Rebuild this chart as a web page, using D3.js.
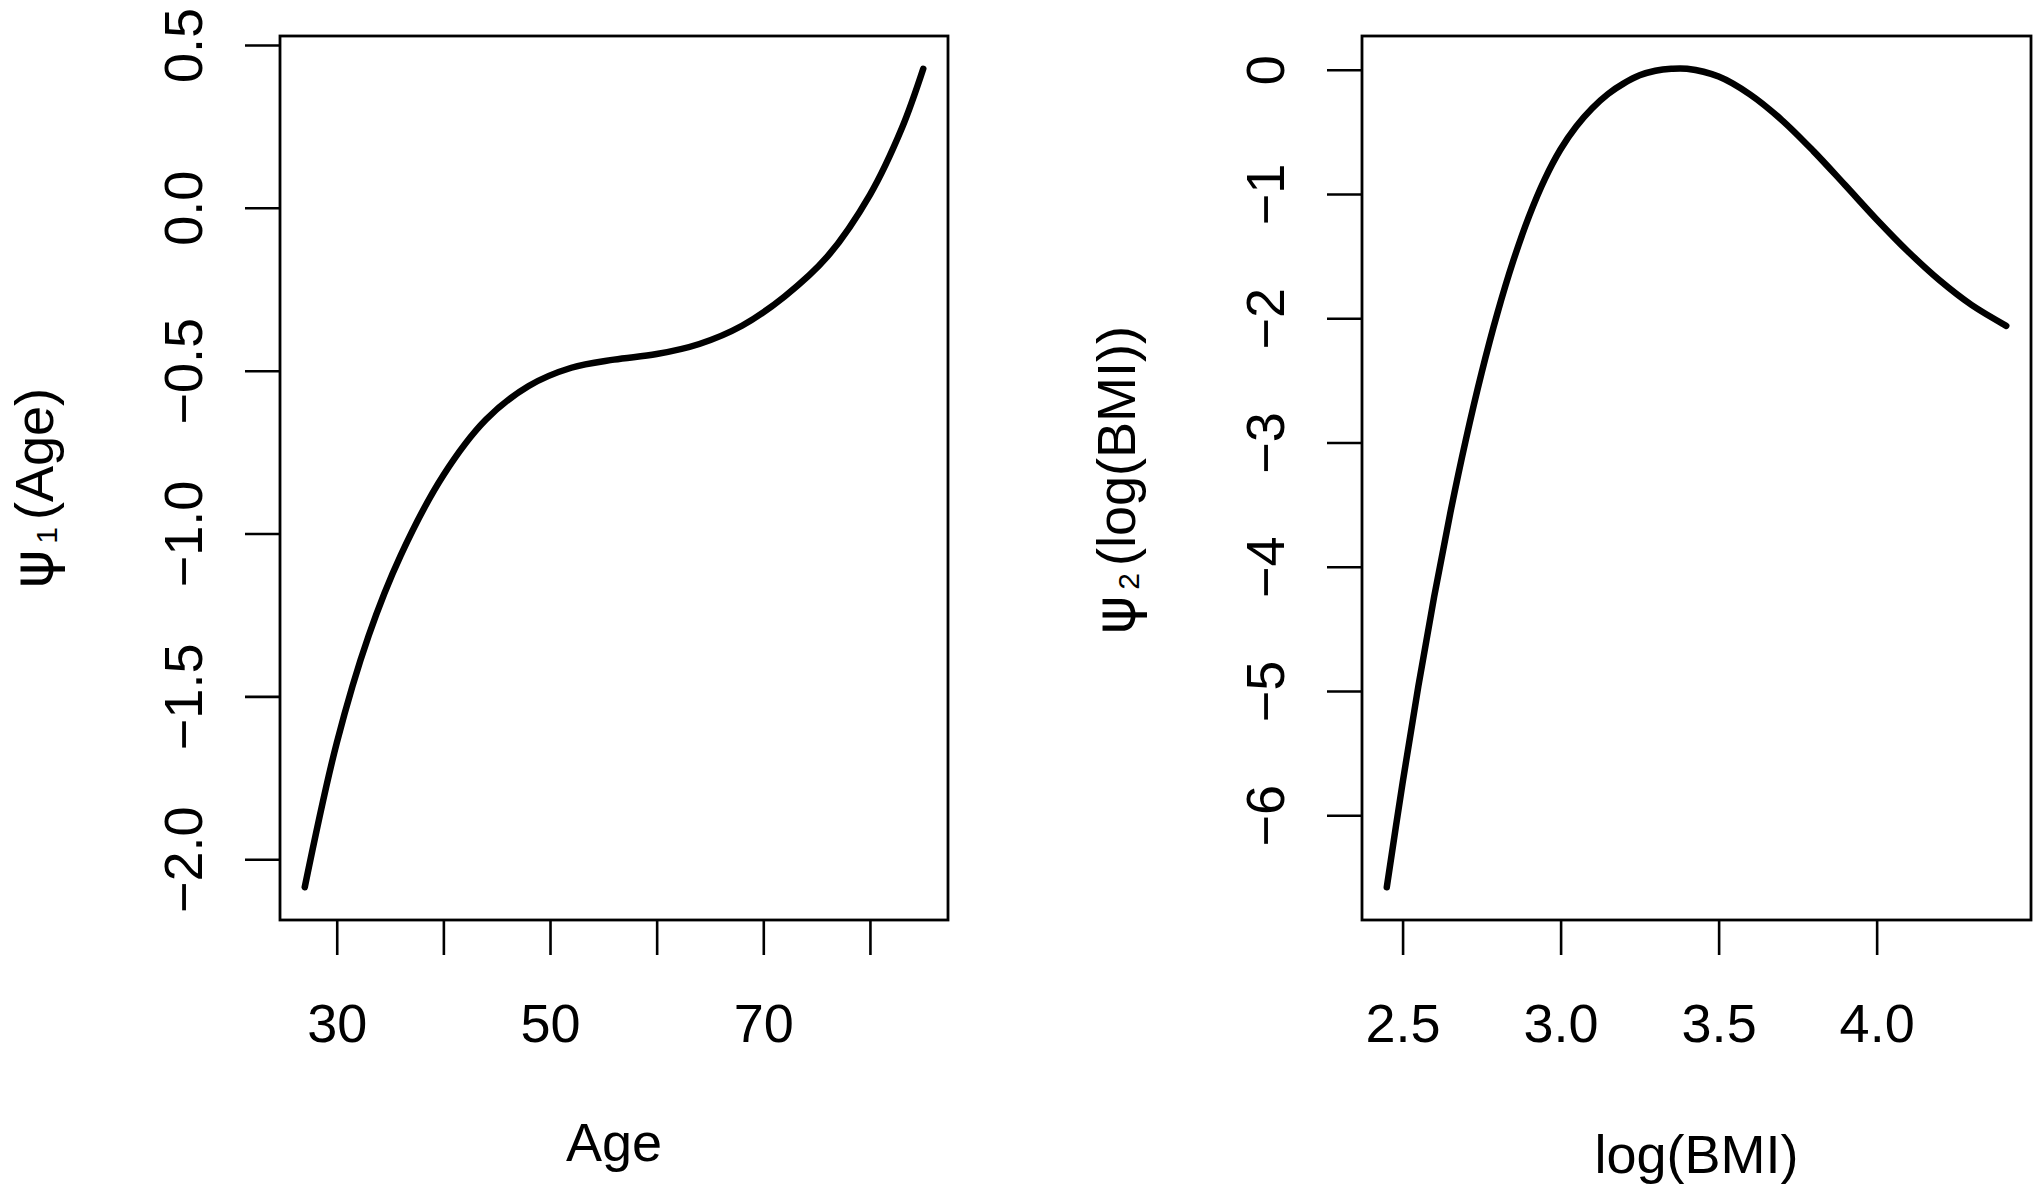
<!DOCTYPE html>
<html>
<head>
<meta charset="utf-8">
<script src="https://cdn.jsdelivr.net/npm/d3@7"></script>
<style>
  body { margin: 0; background: #fff; }
  svg { display: block; font-family: "Liberation Sans", Arial, Helvetica, sans-serif; }
</style>
</head>
<body>
<svg id="chart" width="2040" height="1194"></svg>
<script>
// Age effect (left panel)
const ageValues = [27, 30, 33, 36, 40, 44, 48, 52, 56, 60, 64, 68, 72, 76, 80, 83, 85];
const psi1Values = [-2.086, -1.643, -1.313, -1.067, -0.821, -0.650, -0.547, -0.491, -0.466,
                    -0.449, -0.418, -0.362, -0.272, -0.150, 0.040, 0.245, 0.427];

// log(BMI) effect (right panel)
const logBmiValues = [2.45, 2.5, 2.55, 2.6, 2.65, 2.7, 2.75, 2.8, 2.85, 2.9, 2.95, 3.0, 3.05,
                      3.1, 3.15, 3.2, 3.25, 3.3, 3.35, 3.4, 3.5, 3.6, 3.7, 3.8, 3.9, 4.0, 4.1,
                      4.2, 4.3, 4.41];
const psi2Values = [-6.58, -5.74, -4.96, -4.24, -3.58, -2.98, -2.44, -1.96, -1.54, -1.18,
                    -0.88, -0.64, -0.455, -0.31, -0.195, -0.11, -0.045, -0.008, 0.008, 0.008,
                    -0.055, -0.20, -0.405, -0.655, -0.928, -1.205, -1.465, -1.697, -1.893,
                    -2.061];

// ticks and labels
const ageTicks = [30, 40, 50, 60, 70, 80];
const ageTickLabels = ["30", "", "50", "", "70", ""];
const psi1Ticks = [-2, -1.5, -1, -0.5, 0, 0.5];
const bmiTicks = [2.5, 3.0, 3.5, 4.0];
const psi2Ticks = [-6, -5, -4, -3, -2, -1, 0];

const svg = d3.select('#chart');
const boxTop = 36, boxBottom = 920;
const fontSize = 54;

// R style axis range: data extent padded by 4% on each side
function paddedExtent(vals) {
    const [a, b] = d3.extent(vals);
    const pad = (b - a) * 0.04;
    return [a - pad, b + pad];
}

function drawPanel(opt) {
    const x = d3.scaleLinear().domain(paddedExtent(opt.xs)).range([opt.left, opt.right]);
    const y = d3.scaleLinear().domain(paddedExtent(opt.ys)).range([boxBottom, boxTop]);
    const g = svg.append('g');

    // x axis
    g.append('g')
        .attr('transform', `translate(0,${boxBottom})`)
        .call(d3.axisBottom(x).tickValues(opt.xTicks).tickSize(35).tickFormat(opt.xFormat))
        .call(a => a.select('.domain').remove())
        .call(a => a.attr('font-size', null).attr('font-family', null))
        .call(a => a.selectAll('.tick line').attr('stroke', '#000').attr('stroke-width', 2.6))
        .call(a => a.selectAll('.tick text')
            .attr('y', 122).attr('dy', null)
            .attr('fill', '#000').style('font-size', fontSize + 'px'));

    // y axis, labels written vertically like R's default
    g.append('g')
        .attr('transform', `translate(${opt.left},0)`)
        .call(d3.axisLeft(y).tickValues(opt.yTicks).tickSize(35).tickFormat(opt.yFormat))
        .call(a => a.select('.domain').remove())
        .call(a => a.attr('font-size', null).attr('font-family', null))
        .call(a => a.selectAll('.tick line').attr('stroke', '#000').attr('stroke-width', 2.6))
        .call(a => a.selectAll('.tick text')
            .attr('x', 0).attr('dy', null)
            .attr('transform', 'translate(-78,0) rotate(-90)')
            .attr('text-anchor', 'middle')
            .attr('fill', '#000').style('font-size', fontSize + 'px'));

    // plot box
    g.append('rect')
        .attr('x', opt.left).attr('y', boxTop)
        .attr('width', opt.right - opt.left).attr('height', boxBottom - boxTop)
        .attr('fill', 'none').attr('stroke', '#000').attr('stroke-width', 2.8);

    // fitted curve
    const line = d3.line()
        .x(d => x(d[0]))
        .y(d => y(d[1]))
        .curve(d3.curveCatmullRom);
    g.append('path')
        .datum(d3.zip(opt.xs, opt.ys))
        .attr('d', line)
        .attr('fill', 'none')
        .attr('stroke', '#000')
        .attr('stroke-width', 6.5)
        .attr('stroke-linecap', 'round')
        .attr('stroke-linejoin', 'round');

    // x title
    g.append('text')
        .attr('x', (opt.left + opt.right) / 2)
        .attr('y', opt.xTitleY)
        .attr('text-anchor', 'middle')
        .style('font-size', fontSize + 'px')
        .text(opt.xTitle);

    // y title: psi with a subscript
    const t = g.append('text')
        .attr('transform', `translate(${opt.left - 227},${opt.yTitleMid}) rotate(-90)`)
        .attr('text-anchor', 'middle')
        .style('font-size', fontSize + 'px');
    t.append('tspan').style('font-family', '"DejaVu Sans"').style('font-size', '58px').text('\u03c8');
    t.append('tspan').attr('dx', 6).attr('dy', 4).style('font-size', '30px').text(opt.sub);
    t.append('tspan').attr('dx', 7).attr('dy', -4).text(opt.yTitle);
}

drawPanel({
    xs: ageValues, ys: psi1Values,
    left: 280, right: 948,
    xTicks: ageTicks, xFormat: (d, i) => ageTickLabels[i],
    yTicks: psi1Ticks, yFormat: d3.format('.1f'),
    xTitle: 'Age', xTitleY: 1161,
    sub: '1', yTitle: '(Age)', yTitleMid: 488
});

drawPanel({
    xs: logBmiValues, ys: psi2Values,
    left: 1362, right: 2031,
    xTicks: bmiTicks, xFormat: d3.format('.1f'),
    yTicks: psi2Ticks, yFormat: d3.format('d'),
    xTitle: 'log(BMI)', xTitleY: 1173,
    sub: '2', yTitle: '(log(BMI))', yTitleMid: 480
});
</script>
</body>
</html>
